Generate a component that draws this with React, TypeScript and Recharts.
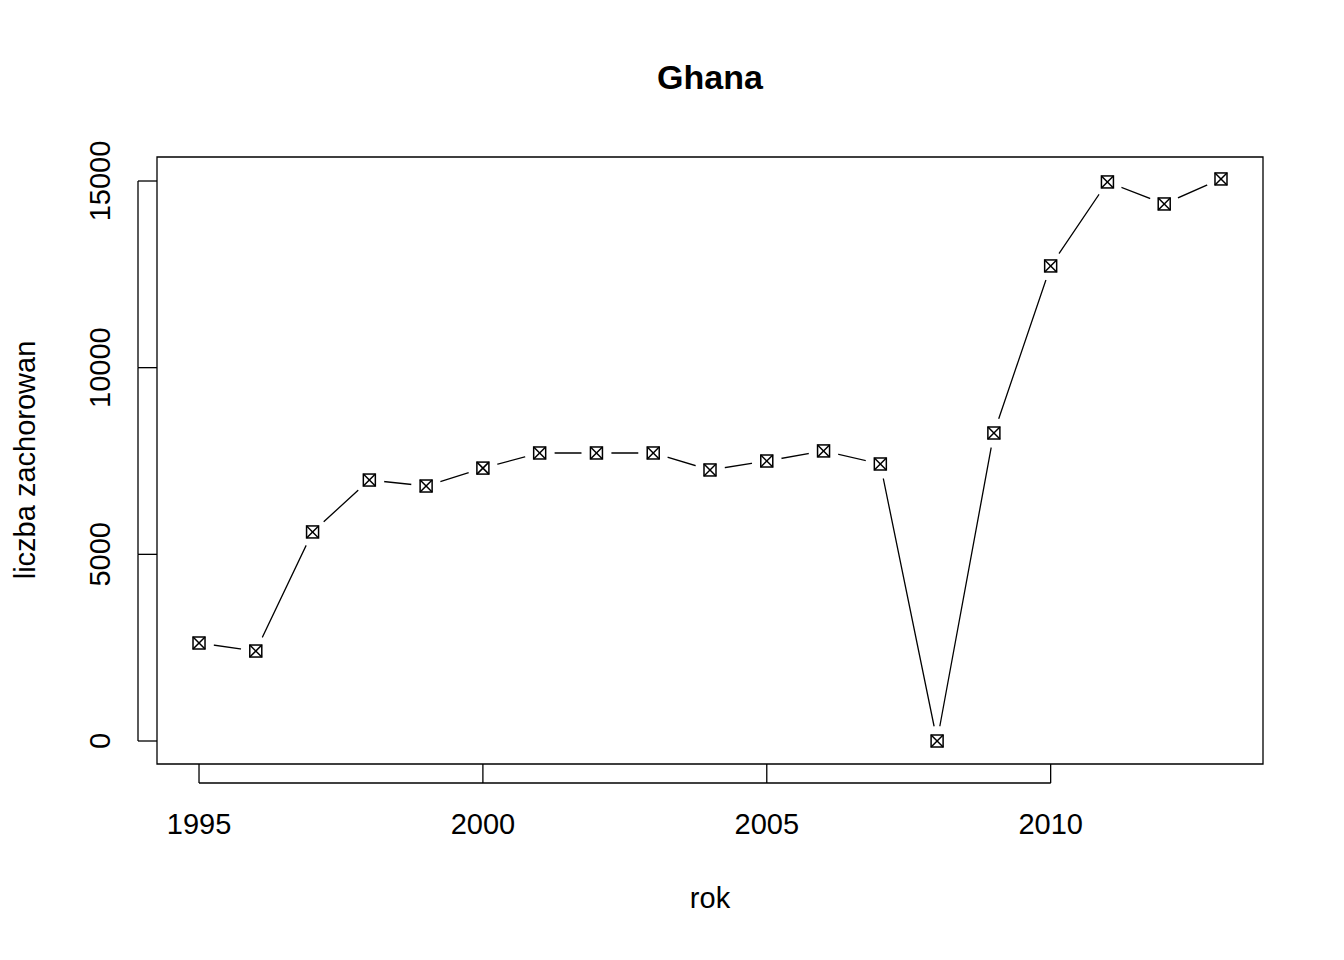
import { LineChart, Line, XAxis, YAxis, ReferenceArea } from "recharts"

const years = [1995, 1996, 1997, 1998, 1999, 2000, 2001, 2002, 2003, 2004, 2005, 2006, 2007, 2008, 2009, 2010, 2011, 2012, 2013]
const cases = [2625, 2410, 5600, 6990, 6830, 7310, 7715, 7715, 7715, 7260, 7500, 7770, 7420, 0, 8250, 12725, 14975, 14385, 15055]
const xTicks = [1995, 2000, 2005, 2010]
const yTicks = [0, 5000, 10000, 15000]

const data = years.map((rok, i) => ({ rok, value: cases[i] }))

const font = "'Liberation Sans', Arial, sans-serif"
const PLOT_BOTTOM = 764
const PLOT_LEFT = 157

// square with a cross (R pch=7), white disc underneath gives the type="b" gaps
function Marker(props: any) {
  const { cx, cy } = props
  if (cx == null || cy == null) return null
  const s = 6
  return (
    <g>
      <circle cx={cx} cy={cy} r={15} fill="#fff" />
      <rect x={cx - s} y={cy - s} width={2 * s} height={2 * s} fill="none" stroke="#000" strokeWidth={1.5} />
      <line x1={cx - s} y1={cy - s} x2={cx + s} y2={cy + s} stroke="#000" strokeWidth={1.5} />
      <line x1={cx - s} y1={cy + s} x2={cx + s} y2={cy - s} stroke="#000" strokeWidth={1.5} />
    </g>
  )
}

function XTick(props: any) {
  const { x, index, payload } = props
  const step = 284
  return (
    <g>
      <line x1={x} y1={PLOT_BOTTOM} x2={x} y2={PLOT_BOTTOM + 19} stroke="#000" strokeWidth={1.3} />
      {index < xTicks.length - 1 && (
        <line x1={x} y1={PLOT_BOTTOM + 19} x2={x + step} y2={PLOT_BOTTOM + 19} stroke="#000" strokeWidth={1.3} />
      )}
      <text x={x} y={PLOT_BOTTOM + 70} textAnchor="middle" fontSize={29} fontFamily={font} fill="#000">
        {payload.value}
      </text>
    </g>
  )
}

function YTick(props: any) {
  const { y, index, payload } = props
  const step = 186.7
  const ax = PLOT_LEFT - 19
  return (
    <g>
      <line x1={PLOT_LEFT} y1={y} x2={ax} y2={y} stroke="#000" strokeWidth={1.3} />
      {index < yTicks.length - 1 && <line x1={ax} y1={y} x2={ax} y2={y - step} stroke="#000" strokeWidth={1.3} />}
      <text
        x={ax - 28}
        y={y}
        textAnchor="middle"
        transform={`rotate(-90 ${ax - 28} ${y})`}
        fontSize={29}
        fontFamily={font}
        fill="#000"
      >
        {payload.value}
      </text>
    </g>
  )
}

export default function App() {
  return (
    <div style={{ position: "absolute", left: 0, top: 0, width: 1344, height: 960, background: "#fff", fontFamily: font }}>
      <LineChart width={1344} height={960} data={data} margin={{ top: 157, right: 81, bottom: 136, left: 97 }}>
        <XAxis
          dataKey="rok"
          type="number"
          domain={[1994.26, 2013.74]}
          ticks={xTicks}
          allowDataOverflow
          axisLine={false}
          tickLine={false}
          height={60}
          tick={<XTick />}
        />
        <YAxis
          type="number"
          domain={[-616, 15643]}
          ticks={yTicks}
          allowDataOverflow
          axisLine={false}
          tickLine={false}
          width={60}
          tick={<YTick />}
        />
        <ReferenceArea x1={1994.26} x2={2013.74} y1={-616} y2={15643} fill="none" stroke="#000" strokeWidth={1.3} />
        <Line
          dataKey="value"
          stroke="#000"
          strokeWidth={1.3}
          type="linear"
          dot={<Marker />}
          activeDot={false}
          isAnimationActive={false}
        />
      </LineChart>
      <div style={{ position: "absolute", left: 0, width: 1420, top: 58, textAlign: "center", fontSize: 34, fontWeight: "bold" }}>
        Ghana
      </div>
      <div style={{ position: "absolute", left: 0, width: 1420, top: 882, textAlign: "center", fontSize: 29 }}>rok</div>
      <div
        style={{
          position: "absolute",
          left: 25,
          top: 460,
          fontSize: 29,
          whiteSpace: "nowrap",
          transform: "translate(-50%, -50%) rotate(-90deg)",
        }}
      >
        liczba zachorowan
      </div>
    </div>
  )
}
